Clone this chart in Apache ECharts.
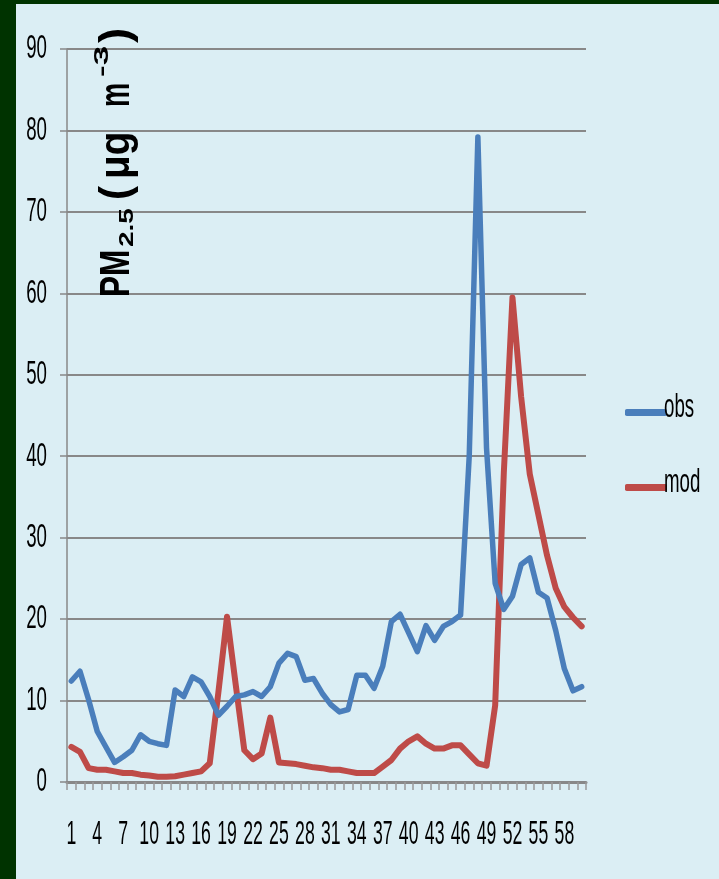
<!DOCTYPE html>
<html>
<head>
<meta charset="utf-8">
<script src="https://cdn.jsdelivr.net/npm/echarts@6/dist/echarts.min.js"></script>
<style>
  html, body { margin: 0; padding: 0; width: 719px; height: 879px; background: #003300; overflow: hidden; }
  #chart { position: absolute; left: 16px; top: 4px; width: 703px; height: 875px; background: #DBEEF4; }
</style>
</head>
<body>
<div id="chart"></div>
<script>
const categories = Array.from({length: 60}, (_, i) => String(i + 1));
const obs = [12.4, 13.6, 10.1, 6.2, 4.3, 2.4, 3.1, 3.9, 5.8, 5.0,
             4.7, 4.5, 11.3, 10.5, 12.9, 12.3, 10.5, 8.2, 9.3, 10.5,
             10.7, 11.1, 10.5, 11.7, 14.6, 15.8, 15.4, 12.5, 12.7, 10.9,
             9.5, 8.6, 8.9, 13.1, 13.1, 11.5, 14.2, 19.7, 20.6, 18.3,
             16.0, 19.2, 17.4, 19.1, 19.7, 20.5, 40.0, 79.2, 41.0, 24.4,
             21.2, 22.8, 26.7, 27.5, 23.3, 22.6, 18.6, 13.9, 11.2, 11.7];
const mod = [4.3, 3.7, 1.7, 1.5, 1.5, 1.3, 1.1, 1.1, 0.9, 0.8,
             0.65, 0.65, 0.7, 0.9, 1.1, 1.3, 2.3, 11.0, 20.3, 12.0,
             3.9, 2.8, 3.5, 7.9, 2.4, 2.3, 2.2, 2.0, 1.8, 1.7,
             1.5, 1.5, 1.3, 1.1, 1.1, 1.1, 1.9, 2.7, 4.1, 5.0,
             5.6, 4.7, 4.1, 4.1, 4.5, 4.5, 3.4, 2.3, 2.0, 9.4,
             38.0, 59.5, 47.3, 37.8, 32.8, 27.8, 23.8, 21.5, 20.2, 19.1];
const seriesNames = ['obs', 'mod'];
const xTickLabels = ['1','4','7','10','13','16','19','22','25','28','31','34','37','40','43','46','49','52','55','58'];
const yTickLabels = ['0','10','20','30','40','50','60','70','80','90'];
const yRange = {min: 0, max: 90, interval: 10};

const FONT = "'Liberation Sans', Arial, sans-serif";
const chart = echarts.init(document.getElementById('chart'), null, {renderer: 'canvas'});

chart.setOption({
  backgroundColor: '#DBEEF4',
  animation: false,
  grid: { left: 51, right: 133, top: 45, bottom: 97, containLabel: false },
  legend: {
    orient: 'vertical', left: 604, top: 400, itemGap: 68,
    itemWidth: 42, itemHeight: 7,
    formatter: function () { return ''; },
    textStyle: { fontSize: 7, lineHeight: 7 },
    data: [
      { name: seriesNames[0], icon: 'roundRect' },
      { name: seriesNames[1], icon: 'roundRect' }
    ]
  },
  xAxis: {
    type: 'category', data: categories, boundaryGap: true,
    axisLine: { show: true, lineStyle: { color: '#888888', width: 3 } },
    axisTick: { show: true, interval: 0, length: 8, lineStyle: { color: '#999999', width: 1.5 } },
    axisLabel: { show: false },
    splitLine: { show: false }
  },
  yAxis: {
    type: 'value', min: yRange.min, max: yRange.max, interval: yRange.interval,
    axisLine: { show: true, lineStyle: { color: '#888888', width: 1.5 } },
    axisTick: { show: true, length: 7, lineStyle: { color: '#888888', width: 1.5 } },
    axisLabel: { show: false },
    splitLine: { show: true, lineStyle: { color: '#888888', width: 2 } }
  },
  series: [
    { name: seriesNames[0], type: 'line', data: obs, symbol: 'none', smooth: false,
      itemStyle: { color: '#4A7EBB' },
      lineStyle: { color: '#4A7EBB', width: 5.5, cap: 'round', join: 'round' }, z: 3 },
    { name: seriesNames[1], type: 'line', data: mod, symbol: 'none', smooth: false,
      itemStyle: { color: '#BE4B48' },
      lineStyle: { color: '#BE4B48', width: 6, cap: 'round', join: 'round' }, z: 2 }
  ]
});

// narrow, tall labels (condensed look of the original) placed through the chart's own scales
function label(text, x, y, size, sx, align, bold) {
  return {
    type: 'text', x: x, y: y, scaleX: sx, z: 20,
    style: { text: text, font: (bold ? 'bold ' : '') + size + 'px ' + FONT, fill: '#000',
             align: align, verticalAlign: 'middle' }
  };
}
const g = [];
xTickLabels.forEach(function (lab) {
  const idx = categories.indexOf(lab);
  const px = chart.convertToPixel({xAxisIndex: 0}, idx);
  g.push(label(lab, px, 831, 34, 0.52, 'center'));
});
const x0 = chart.convertToPixel({xAxisIndex: 0}, 0);
const x1 = chart.convertToPixel({xAxisIndex: 0}, 1);
const yAxisX = x0 - (x1 - x0) / 2;
yTickLabels.forEach(function (lab) {
  const py = chart.convertToPixel({yAxisIndex: 0}, Number(lab));
  g.push(label(lab, yAxisX - 20, py, 34, 0.55, 'right'));
});
// legend texts next to the legend icons
const legendTextX = 648;
g.push(label(seriesNames[0], legendTextX, 404, 34, 0.55, 'left'));
g.push(label(seriesNames[1], legendTextX, 479, 34, 0.55, 'left'));

// rotated axis title: PM2.5 (μg m-3)
function tt(text, x, y, size, sx) {
  return {
    type: 'text', x: x, y: y, scaleX: sx,
    style: { text: text, font: 'bold ' + size + 'px ' + FONT, fill: '#000',
             align: 'left', verticalAlign: 'middle' }
  };
}
g.push({
  type: 'group', x: 101, y: 294, rotation: Math.PI / 2, z: 30,
  children: [
    tt('PM', 1, 0, 42, 0.75),
    tt('2.5', 51, 10, 20, 1.4),
    tt('(', 98, 0, 42, 1.0),
    tt('μg', 119, 0, 42, 0.92),
    tt('m', 191, 0, 42, 0.65),
    tt('-3', 221, -14.5, 20, 1.75),
    tt(')', 255, 0, 42, 1.1)
  ]
});
chart.setOption({ graphic: g });
</script>
</body>
</html>
